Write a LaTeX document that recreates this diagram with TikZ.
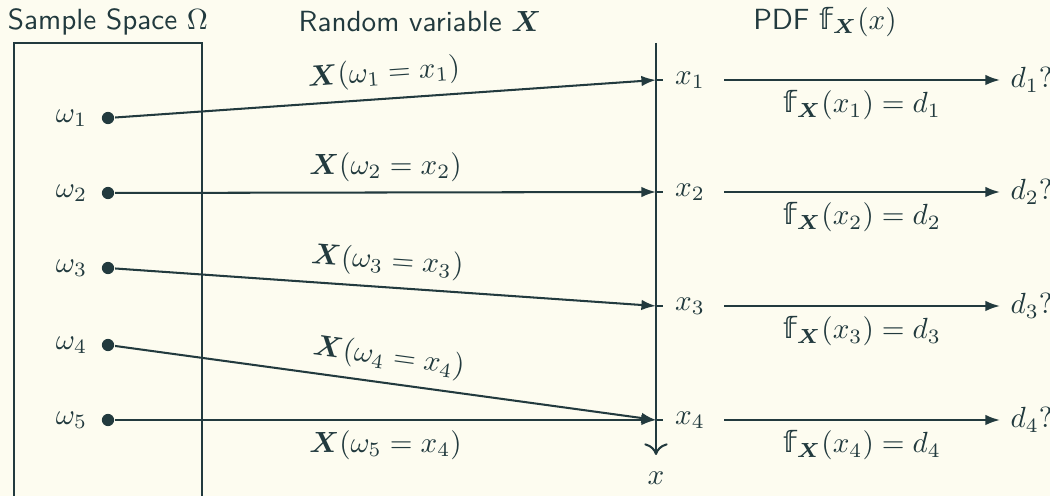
\documentclass[tikz,border=0pt]{standalone}
\usepackage{amsmath}
\usepackage{bm}
\usepackage{fontspec}
\newfontfamily\dsfam{DejaVu Sans}
\usetikzlibrary{arrows.meta,positioning}
\definecolor{ink}{HTML}{223A3E}
\definecolor{paper}{HTML}{FDFCF0}
\newcommand{\pdff}{\text{\dsfam\symbol{"1D557}}_{\bm{X}}}

\begin{document}
\begin{tikzpicture}[x=0.343pt,y=-0.343pt, color=ink, line width=0.7pt,
    every node/.style={text=ink},
    dot/.style={circle, fill=ink, inner sep=0pt, minimum size=4.2pt},
    maparrow/.style={-{Latex[length=5pt,width=3.6pt]}},
    title/.style={font=\sffamily}]
    \fill[paper] (0,0) rectangle (1050,496);
    \useasboundingbox (0,0) rectangle (1050,496);
    % titles
    \node[title] (tomega) at (108,22) {Sample Space $\Omega$};
    \node[title] (trv) at (420,22) {Random variable $\bm{X}$};
    \node[title] (tpdf) at (825,22) {PDF $\pdff(x)$};
    % sample space
    \draw (14,43) rectangle (202,500);
    \node[dot, label={[label distance=1pt]left:$\omega_1$}] (w1) at (108,118) {};
    \node[dot, label={[label distance=1pt]left:$\omega_2$}] (w2) at (108,193) {};
    \node[dot, label={[label distance=1pt]left:$\omega_3$}] (w3) at (108,268) {};
    \node[dot, label={[label distance=1pt]left:$\omega_4$}] (w4) at (108,345) {};
    \node[dot, label={[label distance=1pt]left:$\omega_5$}] (w5) at (108,420) {};
    % axis
    \coordinate (top) at (656,43);
    \coordinate (bot) at (656,455);
    \draw[-{To[length=4pt,width=8pt]}] (top) -- (bot);
    \node (xl) at (656,478) {$x$};
    \foreach \i/\y in {1/80,2/192,3/306,4/420} {
        \coordinate (x\i) at (656,\y);
        \draw (x\i) -- ++(7,0);
        \node (xv\i) at (690,\y) {$x_\i$};
        \node[anchor=west] (d\i) at (1000,\y) {$d_\i?$};
        \draw[maparrow] (xv\i.east) ++(3pt,0) coordinate (s\i) -- (d\i.west)
            node[midway, below] {$\pdff(x_\i) = d_\i$};
    }
    % mappings
    \draw[maparrow] (w1) -- node[above, sloped, pos=0.5] {$\bm{X}(\omega_1 = x_1)$} (x1);
    \draw[maparrow] (w2) -- node[above, sloped, pos=0.5] {$\bm{X}(\omega_2 = x_2)$} (x2);
    \draw[maparrow] (w3) -- node[above, sloped, pos=0.5] {$\bm{X}(\omega_3 = x_3)$} (x3);
    \draw[maparrow] (w4) -- node[above, sloped, pos=0.5] {$\bm{X}(\omega_4 = x_4)$} (x4);
    \draw[maparrow] (w5) -- node[below, sloped, pos=0.5] {$\bm{X}(\omega_5 = x_4)$} (x4);
\end{tikzpicture}
\end{document}
